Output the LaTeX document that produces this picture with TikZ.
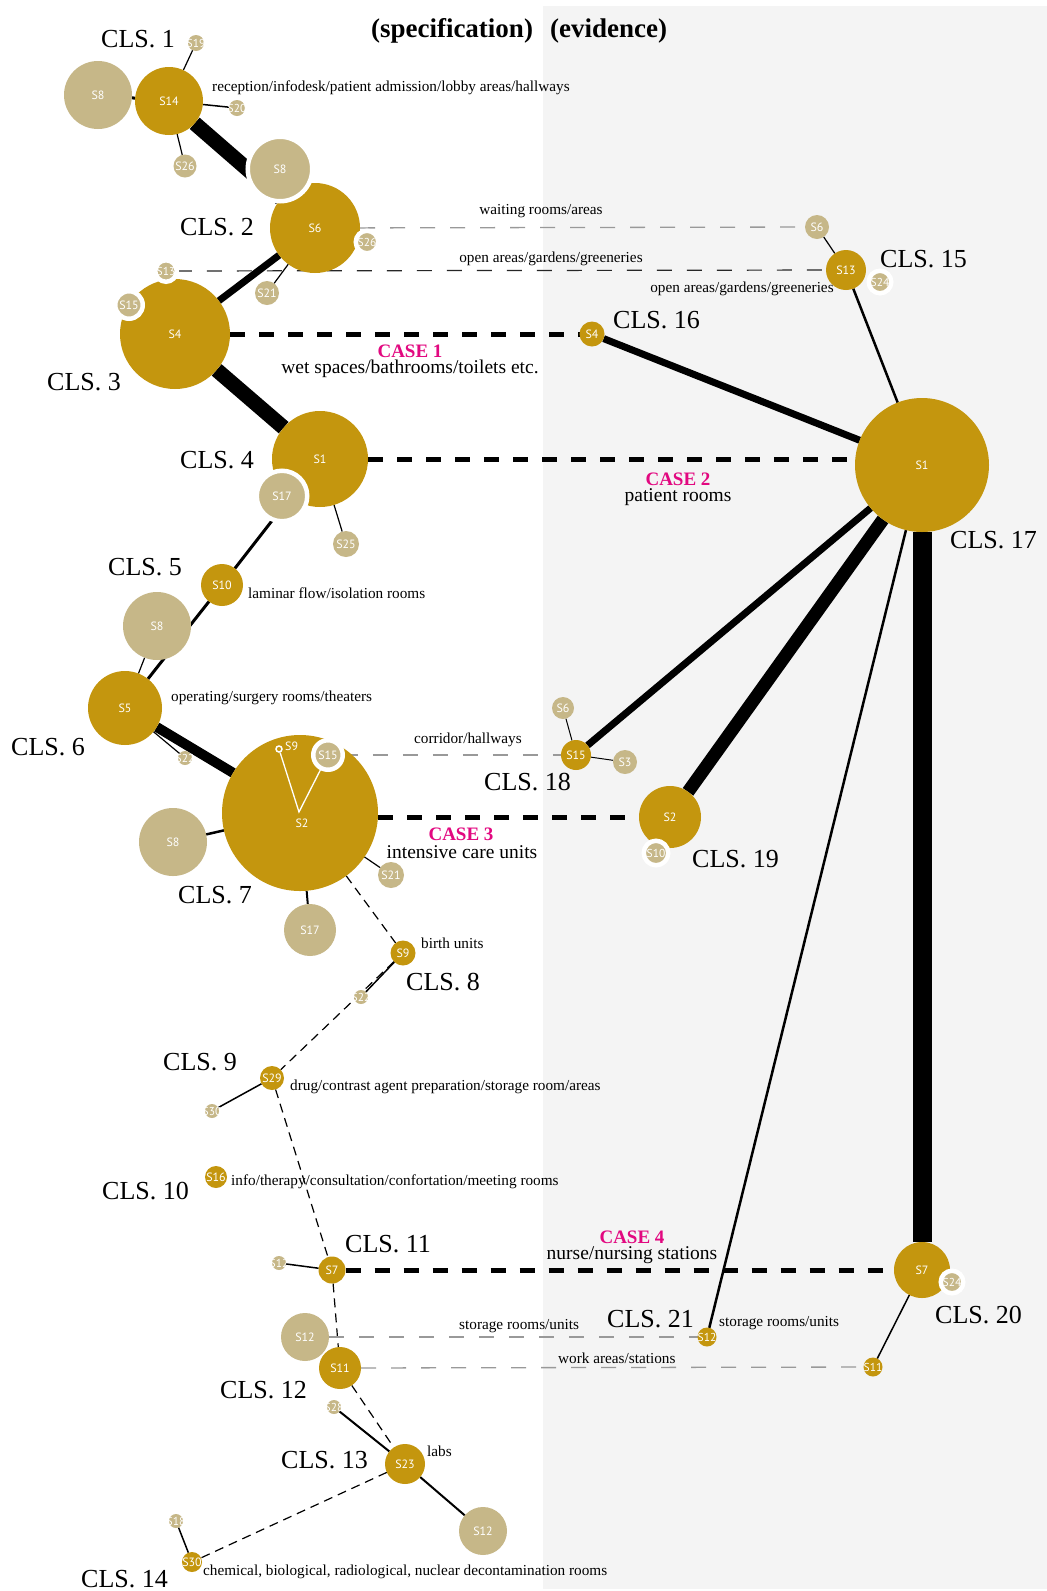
\documentclass[tikz,border=0pt]{standalone}
\usepackage{fontspec}
\setmainfont{Liberation Serif}
\newfontfamily\spotfont{PT Sans}
\definecolor{gold}{RGB}{196,150,14}
\definecolor{tan}{RGB}{198,183,136}
\definecolor{band}{RGB}{244,244,244}
\definecolor{casepink}{RGB}{226,8,128}
\pgfdeclarelayer{bg}
\pgfdeclarelayer{edges}
\pgfsetlayers{bg,edges,main}
% zero-width box so the tag never enlarges its circle
\newcommand\spotname[1]{\makebox[0pt]{#1}}
\begin{document}
\begin{tikzpicture}[x=1pt,y=-1pt,
  spot/.style={circle,inner sep=0pt,outer sep=0pt,minimum size=#1,text=white,
    font=\spotfont\fontsize{12}{12}\selectfont},
  gspot/.style={spot=#1,fill=gold},
  tspot/.style={spot=#1,fill=tan},
  rspot/.style={spot=#1+4.5,fill=tan,draw=white,line width=4.5pt},
  wee/.style={font=\spotfont\fontsize{11.5}{12}\selectfont},
  link/.style={draw=black,line width=#1},
  chain/.style={draw=black,line width=1.2pt,dash pattern=on 9pt off 6pt},
  faint/.style={draw=black!40,line width=1.3pt,dash pattern=on 15pt off 15pt},
  darkdash/.style={draw=black!85,line width=1.2pt,dash pattern=on 15pt off 15pt},
  casedash/.style={draw=black,line width=5pt,dash pattern=on 15pt off 14pt},
  cls/.style={anchor=base west,inner sep=0pt,font=\fontsize{26}{28}\selectfont},
  note/.style={anchor=west,inner sep=0pt,font=\fontsize{15.25}{17}\selectfont},
  casehead/.style={anchor=base,inner sep=0pt,text=casepink,font=\bfseries\fontsize{19}{21}\selectfont},
  casetxt/.style={anchor=base,inner sep=0pt,font=\fontsize{19.5}{21}\selectfont},
  head/.style={inner sep=0pt,font=\bfseries\fontsize{27}{29}\selectfont},
  intag/.style={inner sep=0pt,text=white,font=\spotfont\fontsize{12}{12}\selectfont},
]
\useasboundingbox (0,0) rectangle (1047,1591);
\begin{pgfonlayer}{bg}
  \fill[white] (0,0) rectangle (1047,1591);
  \fill[band] (543,6) rectangle (1047,1589);
\end{pgfonlayer}

% headings
\node[head,anchor=base] (hspec) at (452,37) {(specification)};
\node[head,anchor=base west] (hevid) at (550,37) {(evidence)};

% ---------- specification column ----------
\node[tspot=68] (s8a) at (98,95) {\spotname{S8}};
\node[gspot=68] (s14) at (169,101) {\spotname{S14}};
\node[tspot=16,wee] (c19) at (196,43) {\spotname{S19}};
\node[tspot=16,wee] (c20) at (237,108) {\spotname{S20}};
\node[tspot=23] (s26a) at (185,166) {\spotname{S26}};

\node[gspot=90] (s6) at (315,228) {\spotname{S6}};
\node[rspot=60] (s8b) at (280,169) {\spotname{S8}};
\node[rspot=18,wee] (c26) at (367,242) {\spotname{S26}};
\node[tspot=24] (s21a) at (267,293) {\spotname{S21}};

\node[gspot=110] (s4) at (175,334) {\spotname{S4}};
\node[rspot=17,wee] (c13) at (166,271) {\spotname{S13}};
\node[rspot=23] (s15a) at (129,305) {\spotname{S15}};

\node[gspot=96] (s1) at (320,459) {\spotname{S1}};
\node[rspot=46] (s17a) at (282,496) {\spotname{S17}};
\node[tspot=26] (s25) at (346,544) {\spotname{S25}};

\node[gspot=42] (s10) at (222,585) {\spotname{S10}};
\node[tspot=68] (s8c) at (157,626) {\spotname{S8}};
\node[gspot=74] (s5) at (125,708) {\spotname{S5}};
\node[tspot=14,wee] (c22a) at (185,758) {\spotname{S22}};

\node[gspot=156] (s2) at (300,813) {};
\coordinate (hub) at (299,812);
\node[rspot=25] (s15b) at (328,755) {\spotname{S15}};
\node[circle,fill=gold,draw=white,line width=1.5pt,inner sep=0pt,minimum size=6] (s9dot) at (279,749) {};
\draw[white,line width=1.3pt] (s9dot) -- (hub) -- (s15b);
\node[intag,anchor=west] (s9tag) at (285,746) {S9};
\node[intag] (s2tag) at (302,823) {S2};
\node[tspot=68] (s8d) at (173,842) {\spotname{S8}};
\node[tspot=26] (s21b) at (391,875) {\spotname{S21}};
\node[tspot=52] (s17b) at (310,930) {\spotname{S17}};

\node[gspot=25] (s9) at (403,953) {\spotname{S9}};
\node[tspot=14,wee] (c22b) at (361,997) {\spotname{S22}};
\node[gspot=24] (s29) at (272,1078) {\spotname{S29}};
\node[tspot=14,wee] (c30a) at (212,1111) {\spotname{S30}};
\node[gspot=22] (s16) at (216,1177) {\spotname{S16}};

\node[gspot=27] (s7) at (332,1270) {\spotname{S7}};
\node[tspot=14,wee] (c12a) at (279,1263) {\spotname{S12}};
\node[tspot=48] (s12a) at (305,1337) {\spotname{S12}};
\node[gspot=42] (s11) at (340,1368) {\spotname{S11}};
\node[tspot=14,wee] (c28) at (334,1407) {\spotname{S28}};
\node[gspot=40] (s23) at (405,1464) {\spotname{S23}};
\node[tspot=48] (s12b) at (483,1531) {\spotname{S12}};
\node[gspot=20] (s30) at (192,1562) {\spotname{S30}};
\node[tspot=14,wee] (c18) at (176,1521) {\spotname{S18}};

% ---------- evidence column ----------
\node[tspot=24] (s6r) at (817,227) {\spotname{S6}};
\node[gspot=40] (s13r) at (846,270) {\spotname{S13}};
\node[rspot=18,wee] (c24a) at (880,282) {\spotname{S24}};
\node[gspot=25] (s4r) at (592,334) {\spotname{S4}};
\node[gspot=134] (s1r) at (922,465) {\spotname{S1}};
\node[gspot=30] (s15r) at (576,755) {\spotname{S15}};
\node[tspot=22] (s6rr) at (563,708) {\spotname{S6}};
\node[tspot=24] (s3r) at (625,762) {\spotname{S3}};
\node[gspot=62] (s2r) at (670,817) {\spotname{S2}};
\node[rspot=20,wee] (s10r) at (656,853) {\spotname{S10}};
\node[gspot=19,wee] (c12r) at (707,1337) {\spotname{S12}};
\node[gspot=56] (s7r) at (922,1270) {\spotname{S7}};
\node[rspot=18,wee] (c24b) at (952,1282) {\spotname{S24}};
\node[gspot=19,wee] (c11r) at (873,1367) {\spotname{S11}};

% ---------- connectors ----------
\begin{pgfonlayer}{edges}
  \draw[link=3pt] (s14) -- (s8a);
  \draw[link=1.2pt] (s14) -- (c19);
  \draw[link=1.5pt] (s14) -- (c20);
  \draw[link=1.2pt] (s14) -- (s26a);
  \draw[link=15pt] (s14) -- (s6);
  \draw[link=1.2pt] (s6) -- (s21a);
  \draw[link=7pt] (s6) -- (s4);
  \draw[link=15pt] (s4) -- (s1);
  \draw[link=1.2pt] (s1) -- (s25);
  \draw[link=3pt] (s1) -- (s10);
  \draw[link=3pt] (s10) -- (s5);
  \draw[link=1.2pt] (s8c) -- (s5);
  \draw[link=1.2pt] (s5) -- (c22a);
  \draw[link=10pt] (s5) -- (s2);
  \draw[link=2.5pt] (s2) -- (s8d);
  \draw[link=1.2pt] (s2) -- (s21b);
  \draw[link=2pt] (s2) -- (s17b);
  \draw[link=1.5pt] (s9) -- (c22b);
  \draw[link=1.5pt] (s29) -- (c30a);
  \draw[link=1.5pt] (c12a) -- (s7);
  \draw[link=2pt] (c28) -- (s23);
  \draw[link=2pt] (s23) -- (s12b);
  \draw[link=1.5pt] (c18) -- (s30);

  \draw[chain] (s2) -- (s9);
  \draw[chain] (s9) -- (s29);
  \draw[chain] (s29) -- (s7);
  \draw[chain] (s7) -- (s11);
  \draw[chain] (s11) -- (s23);
  \draw[chain] (s23) -- (s30);

  \draw[link=7pt] (s1r) -- (s4r);
  \draw[link=2.5pt] (s1r) -- (s13r);
  \draw[link=1.2pt] (s13r) -- (s6r);
  \draw[link=7pt] (s1r) -- (s15r);
  \draw[link=1pt] (s15r) -- (s6rr);
  \draw[link=1pt] (s15r) -- (s3r);
  \draw[link=13pt] (s1r) -- (s2r);
  \draw[link=2.5pt] (s1r) -- (c12r);
  \draw[link=19pt] (s1r) -- (s7r);
  \draw[link=1.5pt] (s7r) -- (c11r);

  \draw[faint] (s6) -- (s6r);
  \draw[darkdash] (c13) -- (s13r);
  \draw[faint] (s15b) -- (s15r);
  \draw[faint] (s12a) -- (c12r);
  \draw[faint] (s11) -- (c11r);

  \draw[casedash] (s4) -- (s4r);
  \draw[casedash] (s1) -- (s1 -| s1r.west);
  \draw[casedash] (s2r -| s2.east) -- (s2r);
  \draw[casedash] (s7) -- (s7r);
\end{pgfonlayer}

% ---------- cluster names ----------
\node[cls] (k1) at (101,47) {CLS. 1};
\node[cls] (k2) at (180,235) {CLS. 2};
\node[cls] (k3) at (47,390) {CLS. 3};
\node[cls] (k4) at (180,468) {CLS. 4};
\node[cls] (k5) at (108,575) {CLS. 5};
\node[cls] (k6) at (11,755) {CLS. 6};
\node[cls] (k7) at (178,903) {CLS. 7};
\node[cls] (k8) at (406,990) {CLS. 8};
\node[cls] (k9) at (163,1070) {CLS. 9};
\node[cls] (k10) at (102,1199) {CLS. 10};
\node[cls] (k11) at (345,1252) {CLS. 11};
\node[cls] (k12) at (220,1398) {CLS. 12};
\node[cls] (k13) at (281,1468) {CLS. 13};
\node[cls] (k14) at (81,1587) {CLS. 14};
\node[cls] (k15) at (880,267) {CLS. 15};
\node[cls] (k16) at (613,328) {CLS. 16};
\node[cls] (k17) at (950,548) {CLS. 17};
\node[cls] (k18) at (484,790) {CLS. 18};
\node[cls] (k19) at (692,867) {CLS. 19};
\node[cls] (k20) at (935,1323) {CLS. 20};
\node[cls] (k21) at (607,1327) {CLS. 21};

% ---------- space names ----------
\node[note] (n1) at (212,88) {reception/infodesk/patient admission/lobby areas/hallways};
\node[note,anchor=center] (n2) at (541,211) {waiting rooms/areas};
\node[note,anchor=center] (n3) at (551,259) {open areas/gardens/greeneries};
\node[note,anchor=center] (n4) at (742,289) {open areas/gardens/greeneries};
\node[note] (n5) at (248,593) {laminar flow/isolation rooms};
\node[note] (n6) at (171,698) {operating/surgery rooms/theaters};
\node[note] (n7) at (414,740) {corridor/hallways};
\node[note] (n8) at (421,943) {birth units};
\node[note] (n9) at (290,1087) {drug/contrast agent preparation/storage room/areas};
\node[note] (n10) at (231,1182) {info/therapy/consultation/confortation/meeting rooms};
\node[note] (n11) at (459,1326) {storage rooms/units};
\node[note] (n12) at (719,1323) {storage rooms/units};
\node[note] (n13) at (558,1358) {work areas/stations};
\node[note] (n14) at (427,1451) {labs};
\node[note] (n15) at (203,1572) {chemical, biological, radiological, nuclear decontamination rooms};

% ---------- cases ----------
\node[casehead] (c1h) at (410,357) {CASE 1};
\node[casetxt] (c1t) at (410,373) {wet spaces/bathrooms/toilets etc.};
\node[casehead] (c2h) at (678,485) {CASE 2};
\node[casetxt] (c2t) at (678,501) {patient rooms};
\node[casehead] (c3h) at (461,840) {CASE 3};
\node[casetxt] (c3t) at (462,858) {intensive care units};
\node[casehead] (c4h) at (632,1243) {CASE 4};
\node[casetxt] (c4t) at (632,1259) {nurse/nursing stations};
\end{tikzpicture}
\end{document}
